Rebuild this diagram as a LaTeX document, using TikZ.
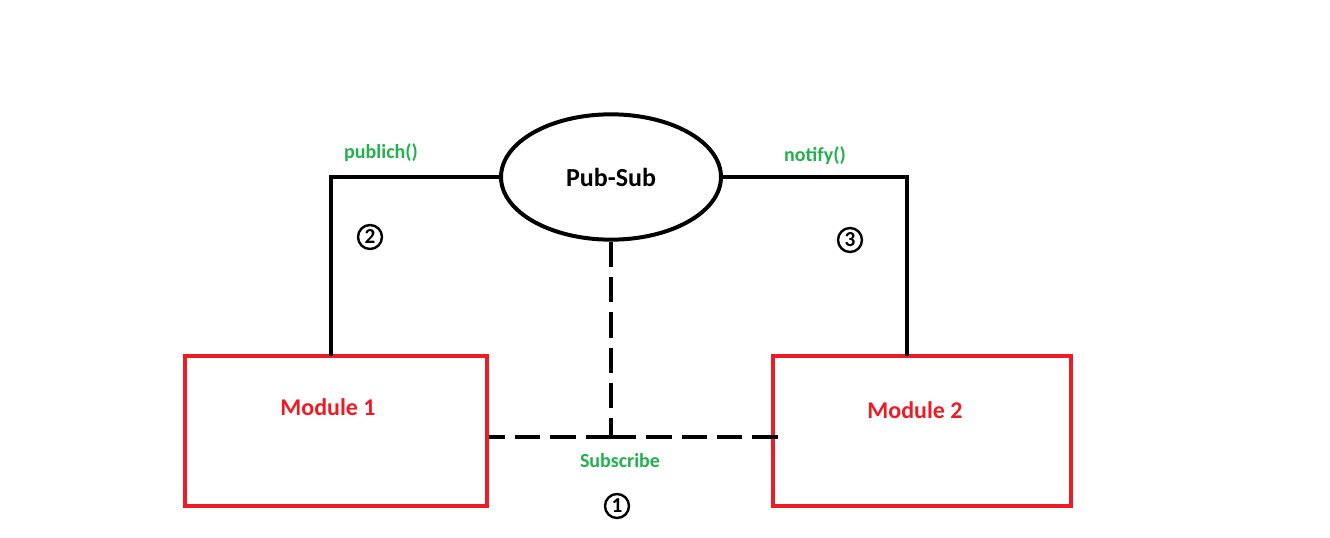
\documentclass[tikz,border=0pt]{standalone}
\usepackage{fontspec}
\setmainfont{Carlito}
\usetikzlibrary{shapes.geometric}
\definecolor{pred}{RGB}{237,28,36}
\definecolor{pgreen}{RGB}{34,177,76}
\tikzset{
  module/.style={draw=pred, line width=3pt, minimum height=112.5pt, inner sep=0pt},
  modtext/.style={text=pred, font=\bfseries\fontsize{18}{20}\selectfont},
  lbl/.style={text=pgreen, font=\bfseries\fontsize{15}{17}\selectfont, inner sep=0pt},
  num/.style={draw, circle, line width=1.8pt, minimum size=18pt, inner sep=0pt, font=\bfseries\fontsize{16}{17}\selectfont},
  wire/.style={line width=3pt, line cap=rect},
  dwire/.style={line width=3.6pt, dash pattern=on 19pt off 7.5pt},
}
\begin{document}
\begin{tikzpicture}[x=0.75pt, y=-0.75pt]
\useasboundingbox (0,0) rectangle (1330,538);
\node[module, minimum width=226.5pt] (m1) at (336,431) {};
\node[module, minimum width=223.5pt] (m2) at (922,431) {};
\node[modtext] (t1) at (328,407) {Module 1};
\node[modtext] (t2) at (915,410) {Module 2};
\node[draw, ellipse, line width=3pt, minimum width=165pt, minimum height=94pt, inner sep=0pt, font=\bfseries\fontsize{19.5}{22}\selectfont] (ps) at (611,177) {Pub-Sub};
\coordinate (lc) at (331,177);
\coordinate (rc) at (907,177);
\coordinate (j) at (611,437);
\draw[wire] (ps.west) -- (lc) -- (lc |- m1.north);
\draw[wire] (ps.east) -- (rc) -- (rc |- m2.north);
\draw[dwire] (ps.south) -- (j);
\draw[dwire] (j) -- (j -| m1.east);
\draw[dwire] (j) -- (778,437) coordinate (je);
\node[lbl] (l1) at (381,153) {publich()};
\node[lbl] (l2) at (815,156) {notify()};
\node[lbl] (l3) at (620,461) {Subscribe};
\node[num] (n2) at (370,237) {2};
\node[num] (n3) at (850,240) {3};
\node[num] (n1) at (617,506) {1};
\end{tikzpicture}
\end{document}
